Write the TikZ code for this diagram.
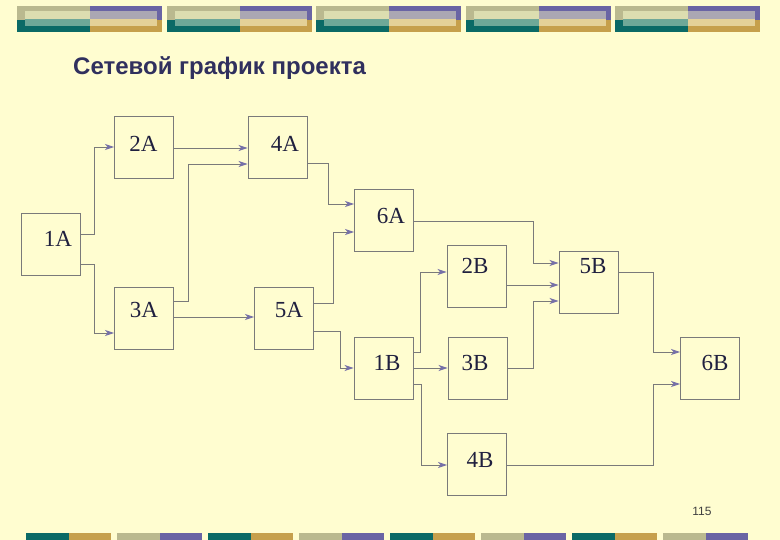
\documentclass[tikz,border=0pt]{standalone}
\usepackage{fontspec}
\setmainfont{Liberation Serif}
\newfontfamily\titlefont{Liberation Sans}
\usetikzlibrary{arrows.meta}
\definecolor{bg}{HTML}{FFFDD0}
\definecolor{lineg}{HTML}{7A7A7A}
\definecolor{arrc}{HTML}{7670A8}
\definecolor{txt}{HTML}{20203F}
\definecolor{ttl}{HTML}{30305E}
\definecolor{tealc}{HTML}{0B6A66}
\definecolor{goldc}{HTML}{C6A04C}
\definecolor{khakic}{HTML}{BAB98F}
\definecolor{purpc}{HTML}{6A64A4}
\definecolor{paleL}{HTML}{DCDDB0}
\definecolor{tealL}{HTML}{6FA898}
\definecolor{lavL}{HTML}{ABA7B3}
\definecolor{goldL}{HTML}{E4D198}
\begin{document}
\begin{tikzpicture}[x=1pt,y=-1pt,
  box/.style={draw=lineg, line width=0.9pt, minimum width=59pt, minimum height=62pt, inner sep=0pt},
  lab/.style={font=\fontsize{23}{27}\selectfont, text=txt, inner sep=0pt},
  conn/.style={draw=lineg, line width=0.9pt, -{Stealth[length=9pt,width=6pt,inset=2.5pt,color=arrc]}}
]
\fill[bg] (0,0) rectangle (780,540);
\useasboundingbox (0,0) rectangle (780,540);
% top decoration
\foreach \x in {17,167,316,466,615} {
  \fill[khakic] (\x,6) rectangle (\x+73,20);
  \fill[tealc] (\x,20) rectangle (\x+73,32);
  \fill[purpc] (\x+73,6) rectangle (\x+145,20);
  \fill[goldc] (\x+73,20) rectangle (\x+145,32);
  \fill[paleL] (\x+8,11) rectangle (\x+73,19);
  \fill[tealL] (\x+8,19) rectangle (\x+73,26);
  \fill[lavL] (\x+73,11) rectangle (\x+140,19);
  \fill[goldL] (\x+73,19) rectangle (\x+140,26);
}
% bottom decoration
\foreach \x in {26,208,390,572} {
  \fill[tealc] (\x,533) rectangle (\x+43,540);
  \fill[goldc] (\x+43,533) rectangle (\x+85,540);
}
\foreach \x in {117,299,481,663} {
  \fill[khakic] (\x,533) rectangle (\x+43,540);
  \fill[purpc] (\x+43,533) rectangle (\x+85,540);
}
% title and page number
\node[anchor=base west, font=\titlefont\bfseries\fontsize{24}{29}\selectfont, text=ttl, inner sep=0pt] (title) at (73,75) {Сетевой график проекта};
\node[font=\titlefont\fontsize{12}{14}\selectfont, text=black!75, inner sep=0pt] (pg) at (702,511) {115};
% boxes
\node[box] (b1A) at (50.5,244.5) {};
\node[box] (b2A) at (144,147.5) {};
\node[box] (b3A) at (144,318) {};
\node[box] (b4A) at (277.5,147.5) {};
\node[box] (b5A) at (284,318) {};
\node[box] (b6A) at (384,220.5) {};
\node[box] (b1B) at (383.5,368) {};
\node[box] (b2B) at (476.5,276) {};
\node[box] (b3B) at (477.5,368) {};
\node[box] (b4B) at (477,464.5) {};
\node[box] (b5B) at (588.5,282.5) {};
\node[box] (b6B) at (710,368) {};
% labels
\node[lab] (t1A) at (58,239) {1A};
\node[lab] (t2A) at (143.5,144) {2A};
\node[lab] (t3A) at (144,310) {3A};
\node[lab] (t4A) at (285,144) {4A};
\node[lab] (t5A) at (289,310) {5A};
\node[lab] (t6A) at (391,216) {6A};
\node[lab] (t1B) at (387,363) {1B};
\node[lab] (t2B) at (475,266) {2B};
\node[lab] (t3B) at (475,363) {3B};
\node[lab] (t4B) at (480,460) {4B};
\node[lab] (t5B) at (593,266) {5B};
\node[lab] (t6B) at (715,363) {6B};
% connectors
\draw[conn] (b1A.east |- 0,234) -- ++(14,0) |- (b2A.west |- 0,147);
\draw[conn] (b1A.east |- 0,264) -- ++(14,0) |- (b3A.west |- 0,333);
\draw[conn] (b2A.east |- 0,148) -- (b4A.west |- 0,148);
\draw[conn] (b3A.east |- 0,301) -- ++(14,0) |- (b4A.west |- 0,164);
\draw[conn] (b3A.east |- 0,317) -- (b5A.west |- 0,317);
\draw[conn] (b4A.east |- 0,163) -- ++(21,0) |- (b6A.west |- 0,204);
\draw[conn] (b5A.east |- 0,303) -- ++(19,0) |- (b6A.west |- 0,232);
\draw[conn] (b5A.east |- 0,331) -- ++(26,0) |- (b1B.west |- 0,368);
\draw[conn] (b1B.east |- 0,352) -- ++(7,0) |- (b2B.west |- 0,272);
\draw[conn] (b1B.east |- 0,368) -- (b3B.west |- 0,368);
\draw[conn] (b1B.east |- 0,384) -- ++(8,0) |- (b4B.west |- 0,465);
\draw[conn] (b6A.east |- 0,221) -- ++(119,0) |- (b5B.west |- 0,263);
\draw[conn] (b2B.east |- 0,285) -- (b5B.west |- 0,285);
\draw[conn] (b3B.east |- 0,368) -- ++(26,0) |- (b5B.west |- 0,301);
\draw[conn] (b5B.east |- 0,272) -- ++(35,0) |- (b6B.west |- 0,352);
\draw[conn] (b4B.east |- 0,465) -- ++(146,0) |- (b6B.west |- 0,384);
\end{tikzpicture}
\end{document}
